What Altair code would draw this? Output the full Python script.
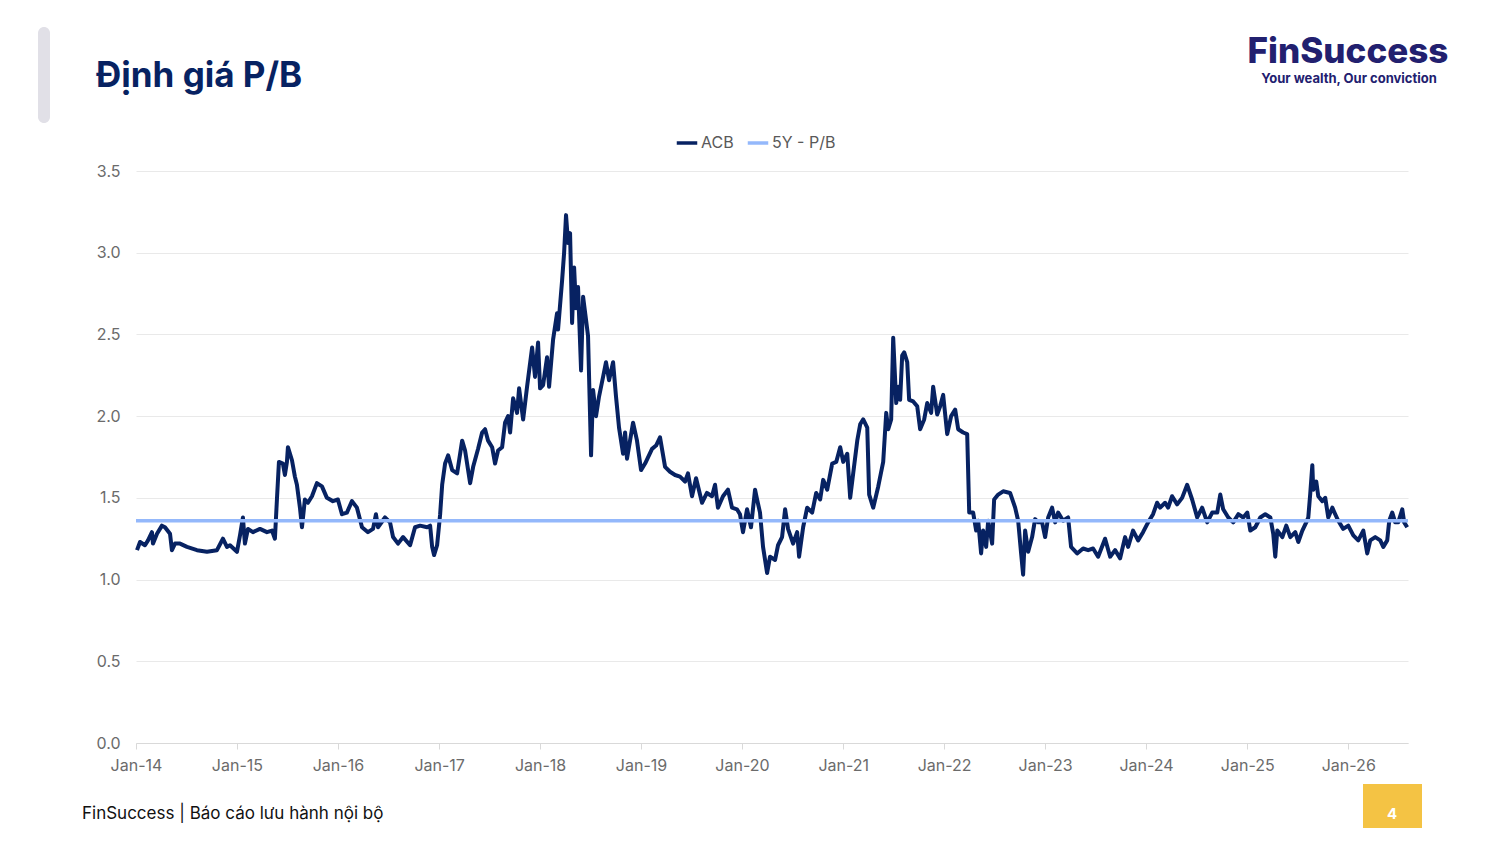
import altair as alt
import pandas as pd

# ---------------- data ----------------
pb_years = [
    2014.010, 2014.040, 2014.089, 2014.119, 2014.158, 2014.168, 2014.208, 2014.257, 2014.287, 2014.337,
    2014.356, 2014.386, 2014.436, 2014.505, 2014.604, 2014.703, 2014.802, 2014.861, 2014.901, 2014.931,
    2015.000, 2015.030, 2015.059, 2015.079, 2015.109, 2015.158, 2015.228, 2015.297, 2015.347, 2015.376,
    2015.396, 2015.416, 2015.455, 2015.475, 2015.495, 2015.505, 2015.545, 2015.574, 2015.594, 2015.624,
    2015.644, 2015.673, 2015.703, 2015.743, 2015.792, 2015.842, 2015.891, 2015.950, 2016.000, 2016.040,
    2016.089, 2016.139, 2016.188, 2016.238, 2016.297, 2016.347, 2016.376, 2016.396, 2016.465, 2016.515,
    2016.545, 2016.594, 2016.644, 2016.713, 2016.762, 2016.812, 2016.881, 2016.911, 2016.931, 2016.950,
    2016.980, 2017.010, 2017.030, 2017.059, 2017.089, 2017.129, 2017.178, 2017.228, 2017.257, 2017.307,
    2017.337, 2017.386, 2017.426, 2017.455, 2017.485, 2017.525, 2017.554, 2017.584, 2017.624, 2017.653,
    2017.683, 2017.703, 2017.733, 2017.772, 2017.792, 2017.832, 2017.871, 2017.921, 2017.950, 2017.980,
    2018.000, 2018.030, 2018.069, 2018.089, 2018.129, 2018.168, 2018.178, 2018.218, 2018.238, 2018.257,
    2018.277, 2018.297, 2018.317, 2018.337, 2018.356, 2018.376, 2018.406, 2018.426, 2018.455, 2018.475,
    2018.505, 2018.525, 2018.554, 2018.584, 2018.624, 2018.653, 2018.683, 2018.723, 2018.752, 2018.782,
    2018.822, 2018.842, 2018.861, 2018.921, 2018.960, 2019.000, 2019.040, 2019.109, 2019.149, 2019.188,
    2019.238, 2019.287, 2019.337, 2019.386, 2019.436, 2019.465, 2019.505, 2019.545, 2019.604, 2019.653,
    2019.703, 2019.733, 2019.762, 2019.812, 2019.861, 2019.901, 2019.950, 2019.980, 2020.010, 2020.050,
    2020.089, 2020.129, 2020.149, 2020.178, 2020.208, 2020.248, 2020.277, 2020.327, 2020.356, 2020.396,
    2020.426, 2020.455, 2020.505, 2020.545, 2020.564, 2020.604, 2020.644, 2020.693, 2020.733, 2020.772,
    2020.802, 2020.842, 2020.891, 2020.931, 2020.970, 2021.000, 2021.040, 2021.069, 2021.099, 2021.139,
    2021.168, 2021.198, 2021.238, 2021.257, 2021.297, 2021.347, 2021.396, 2021.426, 2021.446, 2021.475,
    2021.495, 2021.525, 2021.545, 2021.564, 2021.584, 2021.604, 2021.634, 2021.653, 2021.693, 2021.733,
    2021.762, 2021.802, 2021.832, 2021.871, 2021.891, 2021.931, 2021.960, 2021.990, 2022.030, 2022.069,
    2022.109, 2022.139, 2022.188, 2022.228, 2022.248, 2022.287, 2022.317, 2022.337, 2022.366, 2022.386,
    2022.416, 2022.436, 2022.475, 2022.495, 2022.535, 2022.584, 2022.653, 2022.703, 2022.733, 2022.762,
    2022.782, 2022.802, 2022.832, 2022.871, 2022.901, 2022.931, 2022.970, 2023.000, 2023.030, 2023.069,
    2023.099, 2023.129, 2023.178, 2023.228, 2023.257, 2023.317, 2023.376, 2023.426, 2023.475, 2023.525,
    2023.594, 2023.644, 2023.693, 2023.743, 2023.792, 2023.822, 2023.871, 2023.921, 2023.970, 2024.020,
    2024.069, 2024.109, 2024.139, 2024.188, 2024.218, 2024.257, 2024.307, 2024.356, 2024.406, 2024.455,
    2024.505, 2024.554, 2024.604, 2024.653, 2024.703, 2024.733, 2024.762, 2024.812, 2024.861, 2024.911,
    2024.960, 2025.000, 2025.030, 2025.079, 2025.129, 2025.178, 2025.228, 2025.257, 2025.277, 2025.297,
    2025.347, 2025.386, 2025.426, 2025.475, 2025.505, 2025.545, 2025.584, 2025.604, 2025.624, 2025.644,
    2025.653, 2025.683, 2025.703, 2025.743, 2025.772, 2025.802, 2025.842, 2025.871, 2025.901, 2025.950,
    2026.000, 2026.050, 2026.099, 2026.149, 2026.188, 2026.218, 2026.267, 2026.317, 2026.347, 2026.386,
    2026.406, 2026.436, 2026.465, 2026.495, 2026.535, 2026.554, 2026.584,
]
pb_values = [
    1.18, 1.23, 1.21, 1.24, 1.29, 1.22, 1.28, 1.33, 1.32, 1.28,
    1.18, 1.22, 1.22, 1.20, 1.18, 1.17, 1.18, 1.25, 1.20, 1.21,
    1.17, 1.27, 1.38, 1.22, 1.31, 1.29, 1.31, 1.29, 1.30, 1.25,
    1.49, 1.72, 1.71, 1.64, 1.72, 1.81, 1.73, 1.63, 1.58, 1.44,
    1.32, 1.49, 1.47, 1.51, 1.59, 1.57, 1.50, 1.48, 1.49, 1.40,
    1.41, 1.48, 1.44, 1.32, 1.29, 1.31, 1.40, 1.32, 1.38, 1.35,
    1.26, 1.22, 1.26, 1.21, 1.32, 1.33, 1.32, 1.33, 1.20, 1.15,
    1.21, 1.40, 1.58, 1.71, 1.76, 1.67, 1.65, 1.85, 1.79, 1.59,
    1.69, 1.80, 1.90, 1.92, 1.85, 1.81, 1.71, 1.79, 1.81, 1.96,
    2.00, 1.90, 2.11, 2.02, 2.17, 1.98, 2.18, 2.42, 2.24, 2.45,
    2.17, 2.19, 2.36, 2.18, 2.47, 2.63, 2.53, 2.83, 3.00, 3.23,
    3.06, 3.12, 2.57, 2.91, 2.66, 2.79, 2.28, 2.73, 2.59, 2.49,
    1.76, 2.16, 2.00, 2.12, 2.24, 2.33, 2.22, 2.33, 2.12, 1.93,
    1.77, 1.90, 1.74, 1.96, 1.85, 1.67, 1.71, 1.80, 1.82, 1.87,
    1.69, 1.66, 1.64, 1.63, 1.60, 1.65, 1.51, 1.62, 1.47, 1.53,
    1.51, 1.58, 1.44, 1.51, 1.55, 1.44, 1.43, 1.40, 1.29, 1.43,
    1.32, 1.55, 1.49, 1.41, 1.20, 1.04, 1.14, 1.12, 1.21, 1.26,
    1.43, 1.31, 1.22, 1.29, 1.14, 1.32, 1.44, 1.41, 1.53, 1.49,
    1.61, 1.55, 1.71, 1.72, 1.81, 1.72, 1.77, 1.50, 1.65, 1.85,
    1.95, 1.98, 1.93, 1.52, 1.44, 1.57, 1.72, 2.02, 1.92, 1.98,
    2.48, 2.08, 2.18, 2.10, 2.37, 2.39, 2.33, 2.10, 2.09, 2.06,
    1.92, 1.98, 2.08, 2.02, 2.18, 2.01, 2.06, 2.13, 1.89, 2.00,
    2.04, 1.92, 1.90, 1.89, 1.41, 1.41, 1.30, 1.36, 1.16, 1.30,
    1.20, 1.36, 1.22, 1.49, 1.52, 1.54, 1.53, 1.44, 1.36, 1.16,
    1.03, 1.30, 1.17, 1.26, 1.37, 1.35, 1.35, 1.26, 1.38, 1.44,
    1.35, 1.41, 1.36, 1.38, 1.20, 1.16, 1.19, 1.18, 1.19, 1.14,
    1.25, 1.14, 1.18, 1.13, 1.26, 1.20, 1.30, 1.24, 1.29, 1.35,
    1.40, 1.47, 1.44, 1.47, 1.44, 1.51, 1.46, 1.50, 1.58, 1.49,
    1.38, 1.44, 1.35, 1.41, 1.41, 1.52, 1.43, 1.38, 1.35, 1.40,
    1.38, 1.41, 1.30, 1.32, 1.38, 1.40, 1.38, 1.28, 1.14, 1.30,
    1.26, 1.33, 1.26, 1.29, 1.23, 1.30, 1.35, 1.38, 1.53, 1.70,
    1.55, 1.60, 1.51, 1.48, 1.50, 1.38, 1.44, 1.40, 1.36, 1.31,
    1.33, 1.27, 1.24, 1.30, 1.16, 1.24, 1.26, 1.24, 1.20, 1.24,
    1.36, 1.41, 1.35, 1.35, 1.43, 1.35, 1.32,
]
avg_5y_pb = 1.36
series_names = ["ACB", "5Y - P/B"]
axis_start = "2014-01-01"
axis_end = "2026-08-05"
tick_years = list(range(2014, 2027))
y_ticks = [0.0, 0.5, 1.0, 1.5, 2.0, 2.5, 3.0, 3.5]

title_text = "Định giá P/B"
logo_text = "FinSuccess"
tagline_text = "Your wealth, Our conviction"
footer_text = "FinSuccess | Báo cáo lưu hành nội bộ"
page_number = "4"

# ---------------- build tables ----------------
def to_date(yf):
    y = int(yf)
    start = pd.Timestamp(year=y, month=1, day=1)
    end = pd.Timestamp(year=y + 1, month=1, day=1)
    return start + (end - start) * (yf - y)

acb = pd.DataFrame({
    "date": [to_date(v) for v in pb_years],
    "value": pb_values,
    "series": series_names[0],
})
avg = pd.DataFrame({
    "date": [pd.Timestamp(axis_start), pd.Timestamp(axis_end)],
    "value": [avg_5y_pb, avg_5y_pb],
    "series": series_names[1],
})
data = pd.concat([acb, avg], ignore_index=True)

FONT = "Inter"
NAVY = "#072262"
LIGHT = "#94b8fb"

color_scale = alt.Scale(domain=series_names, range=[NAVY, LIGHT])
x_enc = alt.X(
    "date:T",
    scale=alt.Scale(domain=[alt.DateTime(year=2014, month=1, date=1),
                            alt.DateTime(year=2026, month=8, date=5)], nice=False),
    axis=alt.Axis(
        values=[alt.DateTime(year=y, month=1, date=1) for y in tick_years],
        format="%b-%y", title=None, grid=False, labelFlush=False, labelOverlap=False,
        domainColor="#d9d9d9", tickColor="#d9d9d9", tickSize=6,
        labelPadding=8, labelFontSize=16, labelColor="#6b6b6b", labelFont=FONT,
    ),
)
y_enc = alt.Y(
    "value:Q",
    scale=alt.Scale(domain=[0, 3.5], nice=False),
    axis=alt.Axis(
        values=y_ticks, format=".1f", title=None, domain=False, ticks=False,
        labelPadding=16, labelFontSize=16, labelColor="#6b6b6b", labelFont=FONT,
        gridColor="#e9e9e9", gridWidth=1,
    ),
)
color_enc = alt.Color(
    "series:N", scale=color_scale, sort=series_names,
    legend=alt.Legend(
        orient="none", legendX=539, legendY=-40, direction="horizontal",
        title=None, labelFontSize=16, labelColor="#595959", labelFont=FONT,
        symbolType="stroke", symbolStrokeWidth=3.5, symbolSize=420,
        columnPadding=6, labelOffset=2,
    ),
)

base = alt.Chart(data)
acb_line = base.transform_filter(alt.datum.series == series_names[0]).mark_line(
    strokeWidth=4, interpolate="linear", strokeJoin="round"
).encode(x=x_enc, y=y_enc, color=color_enc)
avg_line = base.transform_filter(alt.datum.series == series_names[1]).mark_line(
    strokeWidth=3.5
).encode(x=x_enc, y=y_enc, color=color_enc)

one = pd.DataFrame({"t": [""]})

bar = alt.Chart(one).mark_rect(color="#e1e0e7", cornerRadius=6).encode(
    x=alt.value(-98), x2=alt.value(-86), y=alt.value(-144), y2=alt.value(-48)
)
title = alt.Chart(pd.DataFrame({"t": [title_text]})).mark_text(
    font=FONT, fontSize=35, fontWeight="bold", color=NAVY, align="left", baseline="alphabetic"
).encode(x=alt.value(-40), y=alt.value(-84), text="t:N")
logo = alt.Chart(pd.DataFrame({"t": [logo_text]})).mark_text(
    font=FONT, fontSize=35, fontWeight=800, color="#22206f", align="center", baseline="alphabetic"
).encode(x=alt.value(1212), y=alt.value(-108), text="t:N")
tagline = alt.Chart(pd.DataFrame({"t": [tagline_text]})).mark_text(
    font=FONT, fontSize=13, fontWeight="bold", color="#22206f", align="center", baseline="alphabetic"
).encode(x=alt.value(1213), y=alt.value(-88), text="t:N")
footer = alt.Chart(pd.DataFrame({"t": [footer_text]})).mark_text(
    font=FONT, fontSize=17, color="#111111", align="left", baseline="middle"
).encode(x=alt.value(-54), y=alt.value(643), text="t:N")
page_box = alt.Chart(one).mark_rect(color="#f4c344").encode(
    x=alt.value(1227), x2=alt.value(1286), y=alt.value(613), y2=alt.value(660)
)
page_num = alt.Chart(pd.DataFrame({"t": [page_number]})).mark_text(
    font=FONT, fontSize=15, fontWeight="bold", color="#ffffff", align="center", baseline="middle"
).encode(x=alt.value(1256), y=alt.value(643), text="t:N")

chart = alt.layer(
    bar, title, logo, tagline, footer, page_box, page_num, acb_line, avg_line
).properties(
    width=1272, height=572,
    autosize=alt.AutoSizeParams(type="none"),
    padding={"left": 128, "top": 163, "right": 84, "bottom": 85},
    background="#ffffff",
).configure_view(stroke=None)

chart.save("out.html", embed_options={"renderer": "svg", "actions": False})
